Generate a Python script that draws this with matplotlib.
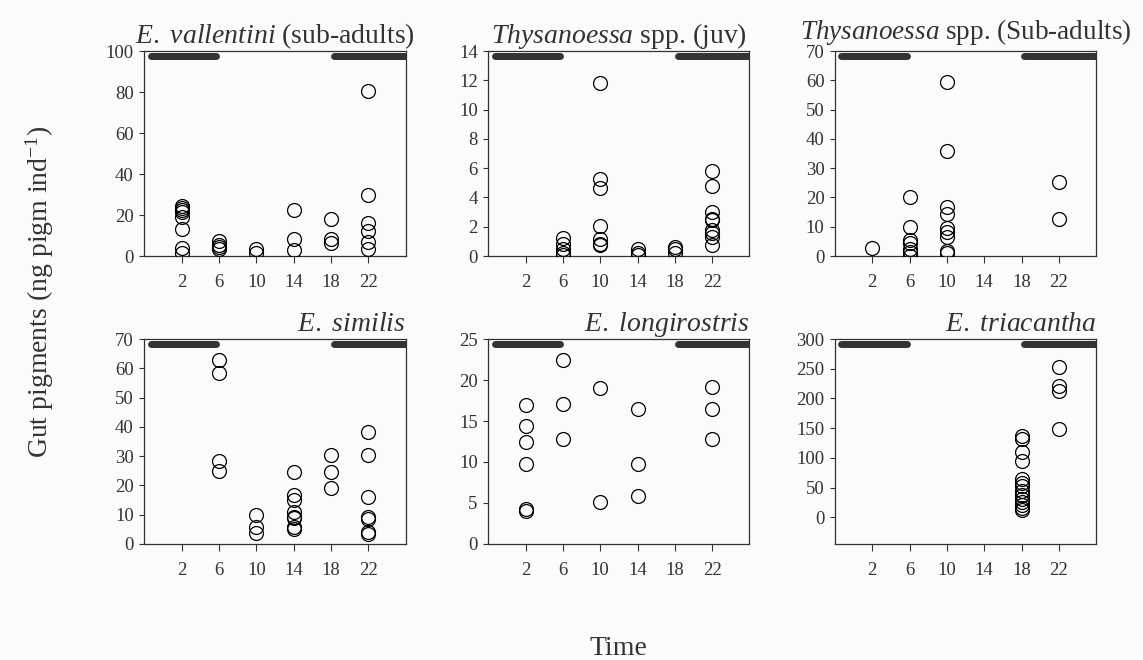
import numpy as np
import matplotlib
matplotlib.use("Agg")
import matplotlib.pyplot as plt

plt.rcParams['font.family'] = ['Liberation Serif', 'DejaVu Serif']
plt.rcParams['mathtext.fontset'] = 'custom'
plt.rcParams['mathtext.rm'] = 'Liberation Serif'
plt.rcParams['mathtext.it'] = 'Liberation Serif:italic'

# sampling times (h) used as x ticks
hours = [2, 6, 10, 14, 18, 22]
# dark period: from dusk (18 h) to dawn (6 h)
dusk = 18
dawn = 6

# E. vallentini (sub-adults)
vall_x = [2, 2, 2, 2, 2, 2, 2, 2, 6, 6, 6, 6, 10, 10, 14, 14, 14, 18, 18, 18,
          22, 22, 22, 22, 22, 22]
vall_y = [24.5, 23.5, 22.5, 21.5, 19.2, 13.3, 4.1, 1.3, 7.2, 5.5, 4.2, 3.6, 3.6, 1.6,
          22.3, 8.4, 2.9, 18.2, 8.4, 6.2, 80.5, 30.0, 16.2, 12.2, 6.7, 3.2]

# Thysanoessa spp. (juv)
tjuv_x = [6, 6, 6, 6, 6, 10, 10, 10, 10, 10, 10, 10, 14, 14, 14, 18, 18, 18,
          22, 22, 22, 22, 22, 22, 22, 22, 22]
tjuv_y = [1.25, 0.8, 0.5, 0.2, 0.05, 11.8, 5.25, 4.65, 2.05, 1.15, 0.85, 0.75,
          0.45, 0.23, 0.07, 0.64, 0.45, 0.18,
          5.8, 4.77, 3.0, 2.55, 2.45, 1.8, 1.6, 1.3, 0.75]

# Thysanoessa spp. (Sub-adults)
tsub_x = [2, 6, 6, 6, 6, 6, 6, 6, 10, 10, 10, 10, 10, 10, 10, 10, 10, 22, 22]
tsub_y = [2.6, 20.2, 10.0, 5.5, 4.3, 2.3, 1.5, 0.0, 59.5, 35.9, 16.6, 14.5, 9.4,
          8.3, 6.6, 1.8, 0.9, 25.3, 12.7]

# E. similis
sim_x = [6, 6, 6, 6, 10, 10, 10, 14, 14, 14, 14, 14, 14, 14, 14, 18, 18, 18,
         22, 22, 22, 22, 22, 22, 22]
sim_y = [62.9, 58.4, 28.2, 25.0, 9.9, 5.9, 3.9, 24.5, 16.8, 15.0, 11.0, 9.3, 8.8,
         5.9, 5.0, 30.4, 24.5, 19.0, 38.2, 30.4, 16.2, 9.1, 8.4, 4.2, 3.4]

# E. longirostris
long_x = [2, 2, 2, 2, 2, 2, 6, 6, 6, 10, 10, 14, 14, 14, 22, 22, 22]
long_y = [17.0, 14.4, 12.4, 9.7, 4.3, 4.0, 22.5, 17.1, 12.8, 19.0, 5.1,
          16.5, 9.8, 5.9, 19.1, 16.5, 12.8]

# E. triacantha
tri_x = [18] * 14 + [22] * 4
tri_y = [137, 132, 110, 95, 65, 58, 52, 45, 38, 31, 25, 20, 16, 13,
         253, 221, 213, 148]

panels = [
    (r"$\mathit{E.\ vallentini}$ (sub-adults)", vall_x, vall_y, (0, 100), 20),
    (r"$\mathit{Thysanoessa}$ spp. (juv)", tjuv_x, tjuv_y, (0, 14), 2),
    (r"$\mathit{Thysanoessa}$ spp. (Sub-adults)", tsub_x, tsub_y, (0, 70), 10),
    (r"$\mathit{E.\ similis}$", sim_x, sim_y, (0, 70), 10),
    (r"$\mathit{E.\ longirostris}$", long_x, long_y, (0, 25), 5),
    (r"$\mathit{E.\ triacantha}$", tri_x, tri_y, (-45, 300), 50),
]

bg = '#fbfbfb'
ink = '#333333'
fig = plt.figure(figsize=(11.43, 6.6), dpi=100, facecolor=bg)

lefts = [0.1263, 0.4272, 0.7305]
bottoms = [0.6121, 0.1758]
w, h = 0.2285, 0.3105

for i, (title, xs, ys, ylim, step) in enumerate(panels):
    ax = fig.add_axes([lefts[i % 3], bottoms[i // 3], w, h], facecolor=bg)
    ax.plot(xs, ys, 'o', ms=10, mfc='none', mec='black', mew=0.9, zorder=3)

    # dark period bars along the top
    tr = ax.get_xaxis_transform()
    ax.plot([-1.3, dawn - 0.3], [0.977, 0.977], transform=tr, color=ink, lw=5,
            solid_capstyle='round', zorder=2)
    ax.plot([dusk + 0.3, 27], [0.977, 0.977], transform=tr, color=ink, lw=5,
            solid_capstyle='round', zorder=2)

    ax.set_xlim(-2, 26)
    ax.set_ylim(*ylim)
    ax.set_xticks(hours)
    ax.set_yticks(np.arange(0, ylim[1] + step / 2, step))
    ax.tick_params(axis='x', length=5, width=0.8, colors=ink, labelsize=13.5, pad=8)
    ax.tick_params(axis='y', length=3.6, width=0.8, colors=ink, labelsize=13.5, pad=4)
    for s in ax.spines.values():
        s.set_color(ink)
        s.set_linewidth(0.9)

    # titles sit on a common baseline: centred on top row, right-aligned below
    if i < 3:
        tx, ha = 0.5, 'center'
    else:
        tx, ha = 1.0, 'right'
    dy, fs = (9, 19.5) if i == 2 else (5.5, 20)
    ax.annotate(title, xy=(tx, 1), xycoords='axes fraction', xytext=(0, dy),
                textcoords='offset points', ha=ha, va='baseline',
                fontsize=fs, color=ink)

fig.text(0.035, 0.558, r"Gut pigments (ng pigm ind$^{-1}$)", rotation=90,
         ha='center', va='center', fontsize=20, color=ink)
fig.text(0.541, 0.017, "Time", ha='center', va='center', fontsize=20, color=ink)

fig.savefig("out.png", dpi=100, facecolor=bg)
